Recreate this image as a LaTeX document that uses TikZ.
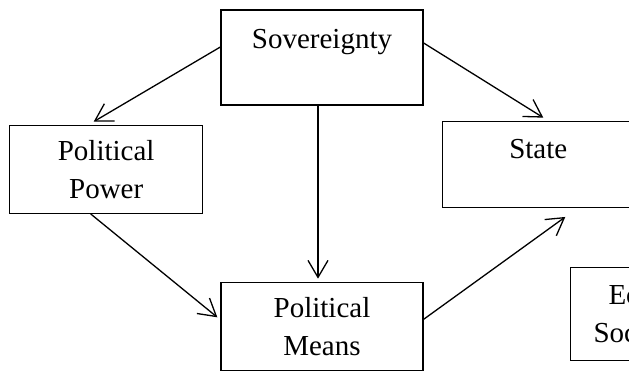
\documentclass[tikz,border=0pt]{standalone}
\usepackage{fontspec}
\setmainfont{Liberation Serif}
\usetikzlibrary{positioning,arrows.meta}
\tikzset{
  box/.style={rectangle, draw, line width=0.65pt, inner sep=2pt, align=center,
              font=\fontsize{14.5pt}{19pt}\selectfont},
  toptext/.style={text height=10pt, text depth=#1}, % text sits high in the box
  fwd/.style={-{Straight Barb[length=8.5pt,width=10pt]}, line width=0.65pt},
}

\begin{document}
\begin{tikzpicture}[x=0.5pt, y=-0.5pt]
\useasboundingbox (0,0) rectangle (629,371);
\clip (0,0) rectangle (629,371);
%Nodes
\node[box, toptext=19.5pt, minimum width=101pt, minimum height=47.5pt] (sov) at (322,57.5) {Sovereignty};
\node[box, minimum width=96.5pt, minimum height=44pt] (power) [below left=9.5pt and 8.5pt of sov] {Political\\Power};
\node[box, toptext=16pt, minimum width=96pt, minimum height=43pt] (state) [below right=7.5pt and 9pt of sov] {State};
\node[box, minimum width=101pt, minimum height=44pt] (means) [below=88pt of sov] {Political\\Means};
\node[box, minimum width=97pt, minimum height=46.5pt] (econ) [right=73pt of means, yshift=6.25pt] {Economic\\Social Order};

%Lines
\draw[fwd] ([yshift=5.25pt]sov.west) -- ([xshift=-6.25pt,yshift=1.5pt]power.north);
\draw[fwd] ([yshift=7.25pt]sov.east) -- ([xshift=2.5pt,yshift=1.5pt]state.north);
\draw[fwd] ([xshift=-2pt]sov.south) -- ([xshift=-2pt,yshift=1.5pt]means.north);
\draw[fwd] ([xshift=-7.75pt]power.south) -- ([xshift=-1.5pt,yshift=4.5pt]means.west);
\draw[fwd] ([yshift=3.5pt]means.east) -- ([xshift=13.5pt,yshift=-4.5pt]state.south);
\end{tikzpicture}
\end{document}
